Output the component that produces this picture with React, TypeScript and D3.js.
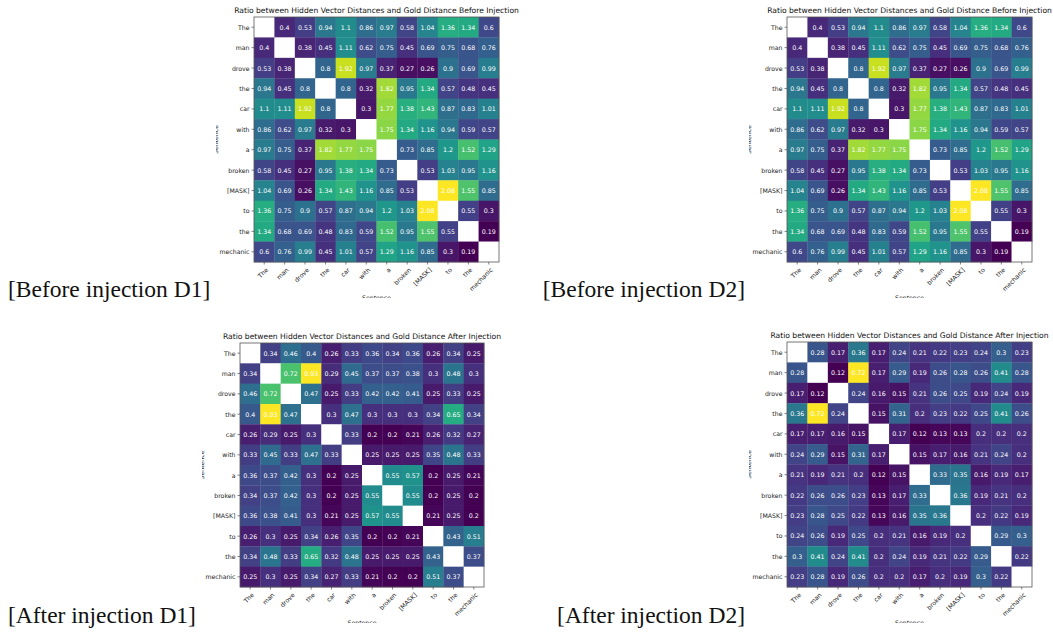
import React from 'react';
import * as d3 from 'd3';

// tokens of the sentence, used on both axes
const tokens = ['The', 'man', 'drove', 'the', 'car', 'with', 'a', 'broken', '[MASK]', 'to', 'the', 'mechanic'];

const titleBefore = 'Ratio between Hidden Vector Distances and Gold Distance Before Injection';
const titleAfter = 'Ratio between Hidden Vector Distances and Gold Distance After Injection';
const axisLabel = 'Sentence';

// null = masked diagonal
const beforeValues: (number | null)[][] = [
	[null, 0.4, 0.53, 0.94, 1.1, 0.86, 0.97, 0.58, 1.04, 1.36, 1.34, 0.6],
	[0.4, null, 0.38, 0.45, 1.11, 0.62, 0.75, 0.45, 0.69, 0.75, 0.68, 0.76],
	[0.53, 0.38, null, 0.8, 1.92, 0.97, 0.37, 0.27, 0.26, 0.9, 0.69, 0.99],
	[0.94, 0.45, 0.8, null, 0.8, 0.32, 1.82, 0.95, 1.34, 0.57, 0.48, 0.45],
	[1.1, 1.11, 1.92, 0.8, null, 0.3, 1.77, 1.38, 1.43, 0.87, 0.83, 1.01],
	[0.86, 0.62, 0.97, 0.32, 0.3, null, 1.75, 1.34, 1.16, 0.94, 0.59, 0.57],
	[0.97, 0.75, 0.37, 1.82, 1.77, 1.75, null, 0.73, 0.85, 1.2, 1.52, 1.29],
	[0.58, 0.45, 0.27, 0.95, 1.38, 1.34, 0.73, null, 0.53, 1.03, 0.95, 1.16],
	[1.04, 0.69, 0.26, 1.34, 1.43, 1.16, 0.85, 0.53, null, 2.08, 1.55, 0.85],
	[1.36, 0.75, 0.9, 0.57, 0.87, 0.94, 1.2, 1.03, 2.08, null, 0.55, 0.3],
	[1.34, 0.68, 0.69, 0.48, 0.83, 0.59, 1.52, 0.95, 1.55, 0.55, null, 0.19],
	[0.6, 0.76, 0.99, 0.45, 1.01, 0.57, 1.29, 1.16, 0.85, 0.3, 0.19, null],
];

const afterD1Values: (number | null)[][] = [
	[null, 0.34, 0.46, 0.4, 0.26, 0.33, 0.36, 0.34, 0.36, 0.26, 0.34, 0.25],
	[0.34, null, 0.72, 0.93, 0.29, 0.45, 0.37, 0.37, 0.38, 0.3, 0.48, 0.3],
	[0.46, 0.72, null, 0.47, 0.25, 0.33, 0.42, 0.42, 0.41, 0.25, 0.33, 0.25],
	[0.4, 0.93, 0.47, null, 0.3, 0.47, 0.3, 0.3, 0.3, 0.34, 0.65, 0.34],
	[0.26, 0.29, 0.25, 0.3, null, 0.33, 0.2, 0.2, 0.21, 0.26, 0.32, 0.27],
	[0.33, 0.45, 0.33, 0.47, 0.33, null, 0.25, 0.25, 0.25, 0.35, 0.48, 0.33],
	[0.36, 0.37, 0.42, 0.3, 0.2, 0.25, null, 0.55, 0.57, 0.2, 0.25, 0.21],
	[0.34, 0.37, 0.42, 0.3, 0.2, 0.25, 0.55, null, 0.55, 0.2, 0.25, 0.2],
	[0.36, 0.38, 0.41, 0.3, 0.21, 0.25, 0.57, 0.55, null, 0.21, 0.25, 0.2],
	[0.26, 0.3, 0.25, 0.34, 0.26, 0.35, 0.2, 0.2, 0.21, null, 0.43, 0.51],
	[0.34, 0.48, 0.33, 0.65, 0.32, 0.48, 0.25, 0.25, 0.25, 0.43, null, 0.37],
	[0.25, 0.3, 0.25, 0.34, 0.27, 0.33, 0.21, 0.2, 0.2, 0.51, 0.37, null],
];

const afterD2Values: (number | null)[][] = [
	[null, 0.28, 0.17, 0.36, 0.17, 0.24, 0.21, 0.22, 0.23, 0.24, 0.3, 0.23],
	[0.28, null, 0.12, 0.72, 0.17, 0.29, 0.19, 0.26, 0.28, 0.26, 0.41, 0.28],
	[0.17, 0.12, null, 0.24, 0.16, 0.15, 0.21, 0.26, 0.25, 0.19, 0.24, 0.19],
	[0.36, 0.72, 0.24, null, 0.15, 0.31, 0.2, 0.23, 0.22, 0.25, 0.41, 0.26],
	[0.17, 0.17, 0.16, 0.15, null, 0.17, 0.12, 0.13, 0.13, 0.2, 0.2, 0.2],
	[0.24, 0.29, 0.15, 0.31, 0.17, null, 0.15, 0.17, 0.16, 0.21, 0.24, 0.2],
	[0.21, 0.19, 0.21, 0.2, 0.12, 0.15, null, 0.33, 0.35, 0.16, 0.19, 0.17],
	[0.22, 0.26, 0.26, 0.23, 0.13, 0.17, 0.33, null, 0.36, 0.19, 0.21, 0.2],
	[0.23, 0.28, 0.25, 0.22, 0.13, 0.16, 0.35, 0.36, null, 0.2, 0.22, 0.19],
	[0.24, 0.26, 0.19, 0.25, 0.2, 0.21, 0.16, 0.19, 0.2, null, 0.29, 0.3],
	[0.3, 0.41, 0.24, 0.41, 0.2, 0.24, 0.19, 0.21, 0.22, 0.29, null, 0.22],
	[0.23, 0.28, 0.19, 0.26, 0.2, 0.2, 0.17, 0.2, 0.19, 0.3, 0.22, null],
];

const captions = ['[Before injection D1]', '[Before injection D2]', '[After injection D1]', '[After injection D2]'];

const FONT = '"DejaVu Sans", sans-serif';

type PanelProps = {
	id: string;
	values: (number | null)[][];
	title: string;
	left: number;
	top: number;
	size: number;
};

const Heatmap = ({ id, values, title, left, top, size }: PanelProps) => {
	const idx = d3.range(tokens.length);
	const x = d3.scaleBand<number>().domain(idx).range([left, left + size]);
	const y = d3.scaleBand<number>().domain(idx).range([top, top + size]);
	const flat = values.flat().filter((v): v is number => v !== null);
	const color = d3.scaleSequential(d3.interpolateViridis).domain(d3.extent(flat) as [number, number]);
	const bw = x.bandwidth();
	const bottom = top + size;

	// the source images were cropped, so the axis labels only peek in at the edges
	return (
		<g>
			<defs>
				<clipPath id={`clip-${id}`}>
					<rect x={left - 38} y={0} width={size + 90} height={bottom + 36} />
				</clipPath>
			</defs>
			<g clipPath={`url(#clip-${id})`} fontFamily={FONT}>
				<text x={left + size / 2} y={top - 4} textAnchor="middle" fontSize={7.6} fill="#111">
					{title}
				</text>
				{values.map((row, i) =>
					row.map((v, j) => (
						<rect
							key={`c${i}-${j}`}
							x={x(j)}
							y={y(i)}
							width={bw + 0.3}
							height={bw + 0.3}
							fill={v === null ? '#fff' : color(v)}
						/>
					))
				)}
				{values.map((row, i) =>
					row.map((v, j) =>
						v === null ? null : (
							<text
								key={`t${i}-${j}`}
								x={(x(j) as number) + bw / 2}
								y={(y(i) as number) + bw / 2}
								textAnchor="middle"
								dominantBaseline="central"
								fontSize={6.3}
								fill="#fff"
							>
								{String(v)}
							</text>
						)
					)
				)}
				<rect x={left} y={top} width={size} height={size} fill="none" stroke="#555" strokeWidth={0.8} />
				{idx.map((i) => {
					const cy = (y(i) as number) + bw / 2;
					return (
						<g key={`yt${i}`}>
							<line x1={left - 2.5} x2={left} y1={cy} y2={cy} stroke="#333" strokeWidth={0.6} />
							<text x={left - 4.5} y={cy} textAnchor="end" dominantBaseline="central" fontSize={6.2} fill="#222">
								{tokens[i]}
							</text>
						</g>
					);
				})}
				{idx.map((j) => {
					const cx = (x(j) as number) + bw / 2;
					return (
						<g key={`xt${j}`}>
							<line x1={cx} x2={cx} y1={bottom} y2={bottom + 2.5} stroke="#333" strokeWidth={0.6} />
							<text
								transform={`translate(${cx + 1},${bottom + 5}) rotate(-45)`}
								textAnchor="end"
								dominantBaseline="hanging"
								fontSize={6.2}
								fill="#222"
							>
								{tokens[j]}
							</text>
						</g>
					);
				})}
				<text
					transform={`translate(${left - 36},${top + size / 2}) rotate(-90)`}
					textAnchor="middle"
					fontSize={6.2}
					fill="#222"
				>
					{axisLabel}
				</text>
				<text x={left + size / 2} y={bottom + 33} textAnchor="middle" dominantBaseline="hanging" fontSize={6.2} fill="#222">
					{axisLabel}
				</text>
			</g>
		</g>
	);
};

const Caption = ({ text, x, y, anchor }: { text: string; x: number; y: number; anchor: 'start' | 'end' }) => (
	<text x={x} y={y} textAnchor={anchor} fontFamily='"Liberation Serif", "Times New Roman", serif' fontSize={23.5} fill="#111">
		{text}
	</text>
);

export default function App() {
	return (
		<svg width={1053} height={633} style={{ position: 'absolute', left: 0, top: 0, background: '#fff' }}>
			<Heatmap id="b1" values={beforeValues} title={titleBefore} left={254} top={17} size={245} />
			<Heatmap id="b2" values={beforeValues} title={titleBefore} left={787} top={17} size={245} />
			<Heatmap id="a1" values={afterD1Values} title={titleAfter} left={240} top={343} size={244} />
			<Heatmap id="a2" values={afterD2Values} title={titleAfter} left={787} top={342} size={245} />
			<Caption text={captions[0]} x={8} y={297} anchor="start" />
			<Caption text={captions[1]} x={745} y={297} anchor="end" />
			<Caption text={captions[2]} x={8} y={623} anchor="start" />
			<Caption text={captions[3]} x={745} y={623} anchor="end" />
		</svg>
	);
}
